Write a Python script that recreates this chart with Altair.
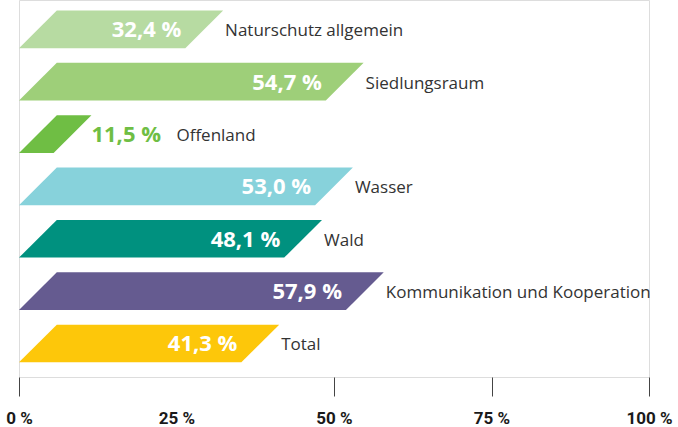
import altair as alt
import pandas as pd

categories = ["Naturschutz allgemein", "Siedlungsraum", "Offenland", "Wasser",
              "Wald", "Kommunikation und Kooperation", "Total"]
values = [32.4, 54.7, 11.5, 53.0, 48.1, 57.9, 41.3]
colors = ["#b7dba2", "#9ecf79", "#6fbe44", "#87d2db", "#00917f", "#655b90", "#fdc70a"]
tick_values = [0, 25, 50, 75, 100]

HALF = 0.36    # half bar thickness in slot units
SLANT = 6.0    # horizontal shift of the parallelogram in % units

poly_rows = []
for i, (c, v) in enumerate(zip(categories, values)):
    poly_rows.append(dict(cat=c, y=i + HALF, x=0.0, x2=v - SLANT))
    poly_rows.append(dict(cat=c, y=i - HALF, x=SLANT, x2=v))
poly = pd.DataFrame(poly_rows)

lab = pd.DataFrame({
    "cat": categories,
    "i": list(range(len(categories))),
    "v": values,
    "txt": [f"{v:.1f}".replace(".", ",") + " %" for v in values],
})

yscale = alt.Scale(domain=[-0.56, 6.64], reverse=True)
xscale = alt.Scale(domain=[0, 100], nice=False)
cscale = alt.Scale(domain=categories, range=colors)

xaxis = alt.Axis(values=tick_values, domain=False, grid=False, tickSize=19,
                 tickColor="#444444", tickWidth=1,
                 tickOpacity={"condition": {"test": "datum.value === 25", "value": 0}, "value": 1},
                 labelFont="Roboto", labelFontWeight="bold", labelFontSize=17,
                 labelColor="#1a1a1a", labelPadding=14, labelFlush=False,
                 labelOverlap=False, labelExpr="datum.value + ' %'", title=None)

bars = alt.Chart(poly).mark_area(orient="horizontal").encode(
    y=alt.Y("y:Q", scale=yscale, axis=None),
    x=alt.X("x:Q", scale=xscale, axis=xaxis, stack=None),
    x2="x2:Q",
    color=alt.Color("cat:N", scale=cscale, legend=None),
    detail="cat:N",
)

base = alt.Chart(lab)

inside_val = base.transform_filter("datum.v >= 20").transform_calculate(
    xp=f"datum.v - {SLANT}"
).mark_text(align="right", baseline="middle", dx=-4, dy=1, font="Open Sans",
            fontWeight="bold", fontSize=22, color="white").encode(
    x=alt.X("xp:Q", scale=xscale),
    y=alt.Y("i:Q", scale=yscale),
    text="txt:N",
)

outside_val = base.transform_filter("datum.v < 20").mark_text(
    align="left", baseline="middle", dx=0, dy=1, font="Open Sans",
    fontWeight="bold", fontSize=22).encode(
    x=alt.X("v:Q", scale=xscale),
    y=alt.Y("i:Q", scale=yscale),
    text="txt:N",
    color=alt.Color("cat:N", scale=cscale, legend=None),
)

cat_in = base.transform_filter("datum.v >= 20").mark_text(
    align="left", baseline="middle", dx=2, dy=2, font="Open Sans",
    fontSize=17, color="#333333").encode(
    x=alt.X("v:Q", scale=xscale),
    y=alt.Y("i:Q", scale=yscale),
    text="cat:N",
)

cat_out = base.transform_filter("datum.v < 20").mark_text(
    align="left", baseline="middle", dx=85, dy=2, font="Open Sans",
    fontSize=17, color="#333333").encode(
    x=alt.X("v:Q", scale=xscale),
    y=alt.Y("i:Q", scale=yscale),
    text="cat:N",
)

chart = alt.layer(bars, inside_val, outside_val, cat_in, cat_out).properties(
    width=630, height=377,
    autosize=alt.AutoSizeParams(type="none"),
    padding={"left": 19, "top": 0, "right": 29, "bottom": 50},
).configure_view(stroke=None).configure(background="white")

chart.save("out.html", embed_options={"renderer": "svg", "actions": False})
